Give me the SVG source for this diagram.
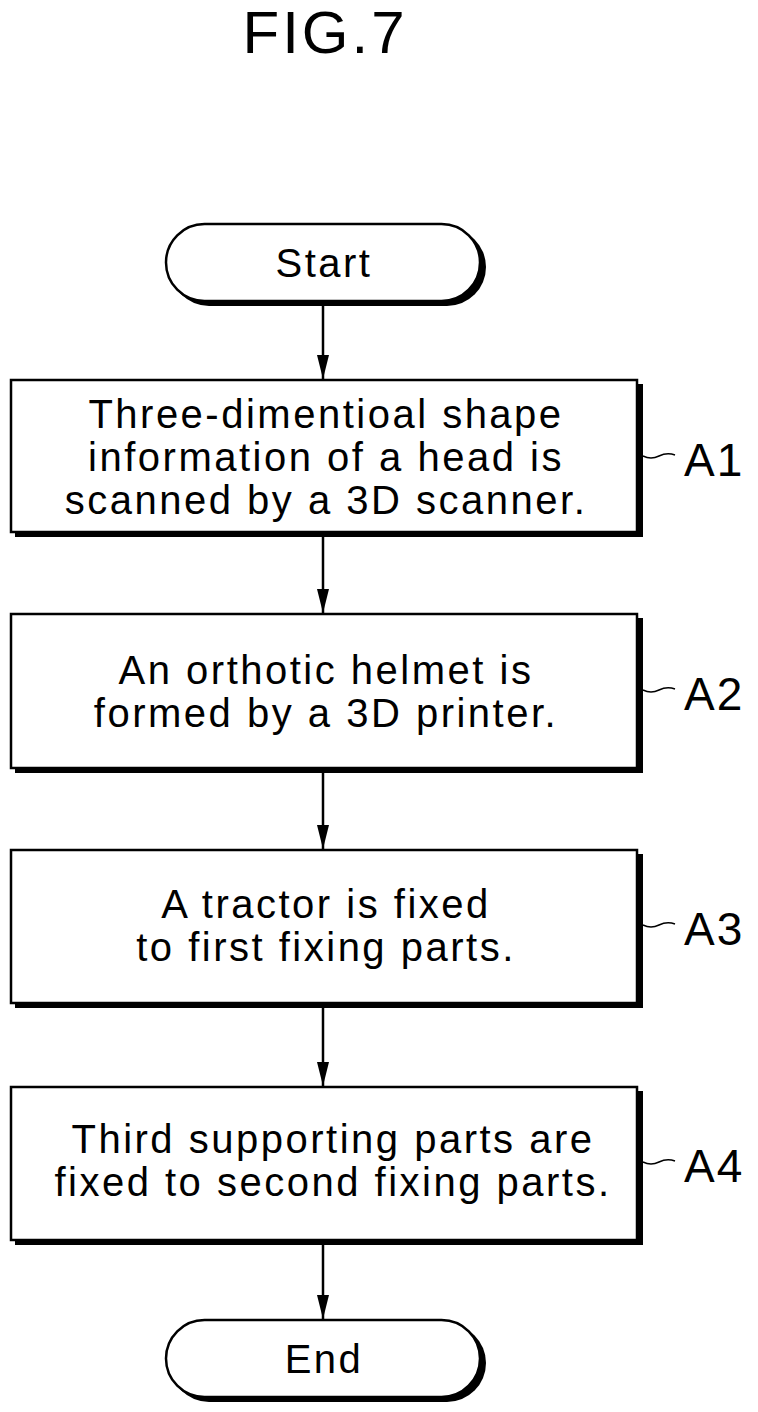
<svg xmlns="http://www.w3.org/2000/svg" width="758" height="1412" viewBox="0 0 758 1412">
<style>
text{font-family:"Liberation Sans",Arial,sans-serif;fill:#000;text-anchor:middle}
.t{font-size:40px;letter-spacing:2.5px}
.l{font-size:46px;letter-spacing:2px;text-anchor:start}
.sh{fill:#000}
.b{fill:#fff;stroke:#000;stroke-width:2.5}
.c{stroke:#000;stroke-width:2.5;fill:none}
.sq{stroke:#000;stroke-width:1.5;fill:none}
</style>
<defs><marker id="a" markerWidth="24" markerHeight="12" refX="24" refY="6" orient="auto" markerUnits="userSpaceOnUse"><path d="M0,0L24,6L0,12z" fill="#000"/></marker></defs>
<rect width="758" height="1412" fill="#fff"/>
<text x="325" y="53" style="font-size:60px;letter-spacing:3px">FIG.7</text>
<g id="connectors">
<line class="c" x1="323" y1="306" x2="323" y2="379" marker-end="url(#a)"/>
<line class="c" x1="323" y1="537" x2="323" y2="613" marker-end="url(#a)"/>
<line class="c" x1="323" y1="773" x2="323" y2="849" marker-end="url(#a)"/>
<line class="c" x1="323" y1="1008" x2="323" y2="1086" marker-end="url(#a)"/>
<line class="c" x1="323" y1="1245" x2="323" y2="1319" marker-end="url(#a)"/>
</g>
<g id="start"><rect class="sh" x="170" y="228" width="316" height="78" rx="39"/><rect class="b" x="166" y="224" width="314" height="77" rx="38.5"/><text class="t" x="324" y="277">Start</text></g>
<g id="A1"><rect class="sh" x="15" y="384" width="628" height="153"/><rect class="b" x="11" y="380" width="626" height="152"/>
<text class="t" x="326" y="428">Three-dimentioal shape</text><text class="t" x="326" y="471">information of a head is</text><text class="t" x="326" y="514">scanned by a 3D scanner.</text>
<path class="sq" d="M643,456 q8,4 16,0 t16,-1"/><text class="l" x="684" y="476">A1</text></g>
<g id="A2"><rect class="sh" x="15" y="618" width="628" height="155"/><rect class="b" x="11" y="614" width="626" height="154"/>
<text class="t" x="326" y="684">An orthotic helmet is</text><text class="t" x="326" y="727">formed by a 3D printer.</text>
<path class="sq" d="M643,690 q8,4 16,0 t16,-1"/><text class="l" x="684" y="710">A2</text></g>
<g id="A3"><rect class="sh" x="15" y="854" width="628" height="154"/><rect class="b" x="11" y="850" width="626" height="153"/>
<text class="t" x="326" y="918">A tractor is fixed</text><text class="t" x="326" y="961">to first fixing parts.</text>
<path class="sq" d="M643,925 q8,4 16,0 t16,-1"/><text class="l" x="684" y="945">A3</text></g>
<g id="A4"><rect class="sh" x="15" y="1091" width="628" height="154"/><rect class="b" x="11" y="1087" width="626" height="153"/>
<text class="t" x="333" y="1153">Third supporting parts are</text><text class="t" x="333" y="1196">fixed to second fixing parts.</text>
<path class="sq" d="M643,1162 q8,4 16,0 t16,-1"/><text class="l" x="684" y="1182">A4</text></g>
<g id="end"><rect class="sh" x="170" y="1324" width="316" height="78" rx="39"/><rect class="b" x="166" y="1320" width="314" height="77" rx="38.5"/><text class="t" x="324" y="1373">End</text></g>
</svg>
